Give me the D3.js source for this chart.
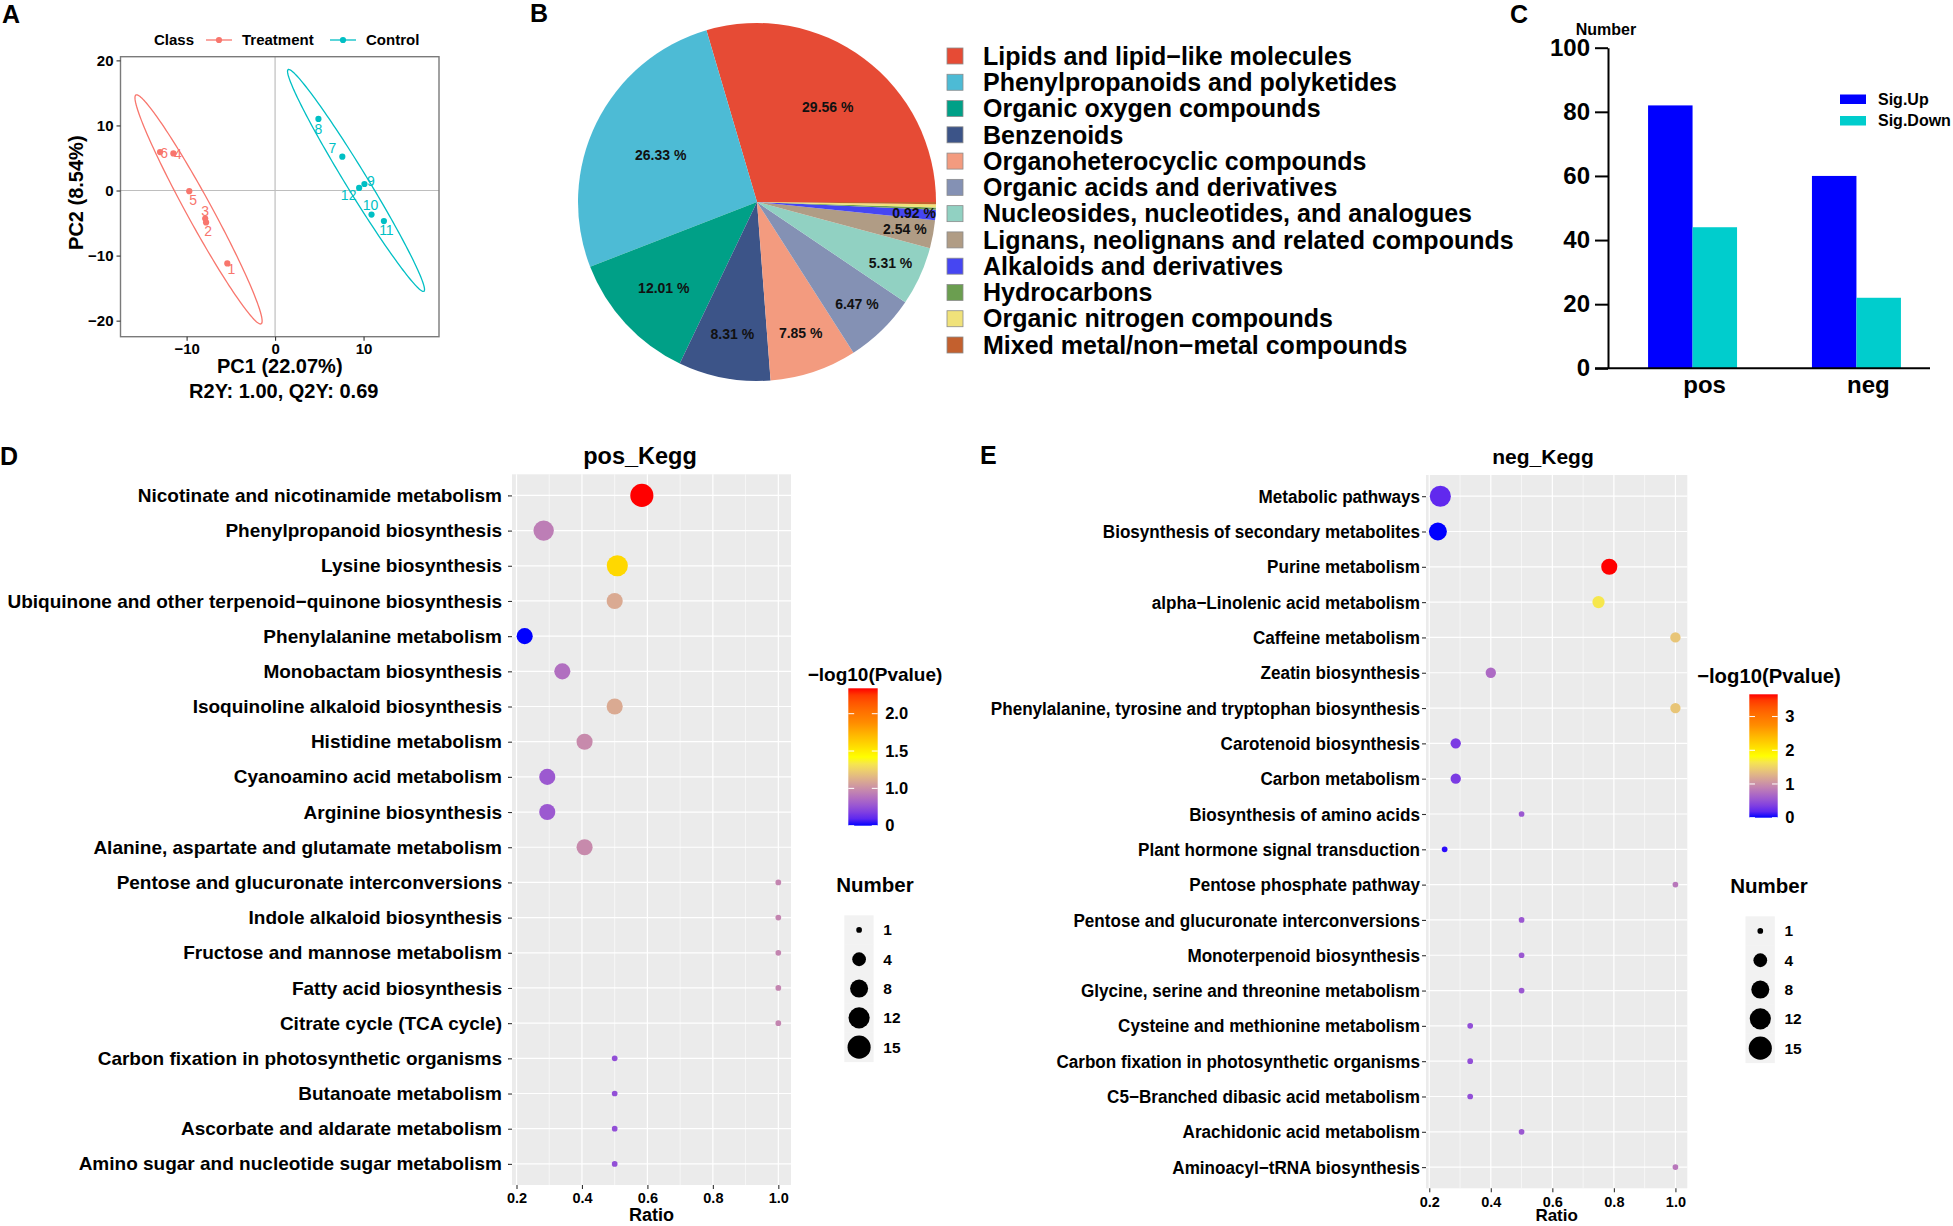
<!DOCTYPE html>
<html><head><meta charset="utf-8">
<script src="https://cdn.jsdelivr.net/npm/d3@7"></script>
<style>
body{margin:0;background:#fff;}
svg{display:block;font-family:"Liberation Sans",Arial,Helvetica,sans-serif;}
</style></head><body>
<svg id="fig" width="1953" height="1226"></svg>
<script>
// ================= DATA =================
// Panel A : PLS-DA scores
const plsSamples = ["1","2","3","4","5","6","7","8","9","10","11","12"];
const plsClass   = ["Treatment","Treatment","Treatment","Treatment","Treatment","Treatment",
                    "Control","Control","Control","Control","Control","Control"];
const plsPC1 = [-5.4,-7.8,-7.9,-11.5,-9.7,-13.0, 7.6,4.9,10.1,10.9,12.3,9.5];
const plsPC2 = [-11.2,-4.9,-4.3,5.7,-0.1,5.9, 5.2,11.0,1.0,-3.7,-4.7,0.4];
const plsClasses = ["Treatment","Control"];
const ellipseEndA  = [[-15.7,14.7],[1.5,18.6]];   // ends of major axis (data units)
const ellipseEndB  = [[-1.6,-20.5],[16.8,-15.5]];
const ellipseMinor = [1.5,1.3];                    // minor semi-axis (data units)
const plsXTicks = [-10,0,10];
const plsYTicks = [-20,-10,0,10,20];

// Panel B : classification pie
const pieClasses = ["Lipids and lipid\u2212like molecules","Phenylpropanoids and polyketides",
  "Organic oxygen compounds","Benzenoids","Organoheterocyclic compounds",
  "Organic acids and derivatives","Nucleosides, nucleotides, and analogues",
  "Lignans, neolignans and related compounds","Alkaloids and derivatives","Hydrocarbons",
  "Organic nitrogen compounds","Mixed metal/non\u2212metal compounds"];
const piePercent = [29.56,26.33,12.01,8.31,7.85,6.47,5.31,2.54,0.92,0.20,0.30,0.20];

// Panel C : significant metabolites
const modeGroups = ["pos","neg"];
const sigSeries  = ["Sig.Up","Sig.Down"];
const sigUp   = [82,60];
const sigDown = [44,22];
const countTicks = [0,20,40,60,80,100];

// Panel D : pos KEGG enrichment
const keggPosPathways = ["Nicotinate and nicotinamide metabolism","Phenylpropanoid biosynthesis",
  "Lysine biosynthesis","Ubiquinone and other terpenoid\u2212quinone biosynthesis",
  "Phenylalanine metabolism","Monobactam biosynthesis","Isoquinoline alkaloid biosynthesis",
  "Histidine metabolism","Cyanoamino acid metabolism","Arginine biosynthesis",
  "Alanine, aspartate and glutamate metabolism","Pentose and glucuronate interconversions",
  "Indole alkaloid biosynthesis","Fructose and mannose metabolism","Fatty acid biosynthesis",
  "Citrate cycle (TCA cycle)","Carbon fixation in photosynthetic organisms",
  "Butanoate metabolism","Ascorbate and aldarate metabolism",
  "Amino sugar and nucleotide sugar metabolism"];
const keggPosRatio  = [0.583,0.283,0.508,0.5,0.225,0.34,0.5,0.408,0.294,0.294,0.408,1,1,1,1,1,0.5,0.5,0.5,0.5];
const keggPosNumber = [15,11,12,6,6,6,6,6,6,6,6,1,1,1,1,1,1,1,1,1];
const keggPosLogP   = [2.34,0.93,1.58,1.1,0.5,0.87,1.1,0.98,0.78,0.78,0.98,0.96,0.96,0.96,0.96,0.96,0.74,0.74,0.74,0.74];
const keggPosColorTicks  = [0.5,1.0,1.5,2.0];
const keggPosColorLabels = ["0","1.0","1.5","2.0"];

// Panel E : neg KEGG enrichment
const keggNegPathways = ["Metabolic pathways","Biosynthesis of secondary metabolites",
  "Purine metabolism","alpha\u2212Linolenic acid metabolism","Caffeine metabolism",
  "Zeatin biosynthesis","Phenylalanine, tyrosine and tryptophan biosynthesis",
  "Carotenoid biosynthesis","Carbon metabolism","Biosynthesis of amino acids",
  "Plant hormone signal transduction","Pentose phosphate pathway",
  "Pentose and glucuronate interconversions","Monoterpenoid biosynthesis",
  "Glycine, serine and threonine metabolism","Cysteine and methionine metabolism",
  "Carbon fixation in photosynthetic organisms","C5\u2212Branched dibasic acid metabolism",
  "Arachidonic acid metabolism","Aminoacyl\u2212tRNA biosynthesis"];
const keggNegRatio  = [0.236,0.228,0.785,0.75,1,0.4,1,0.286,0.286,0.5,0.25,1,0.5,0.5,0.5,0.333,0.333,0.333,0.5,1];
const keggNegNumber = [12,8,6,3,2,2,2,2,2,1,1,1,1,1,1,1,1,1,1,1];
const keggNegLogP   = [0.2,0,3.66,1.65,1.4,0.7,1.4,0.33,0.33,0.55,0.04,0.8,0.55,0.55,0.55,0.48,0.48,0.48,0.55,0.8];
const keggNegColorTicks  = [0,1,2,3];
const keggNegColorLabels = ["0","1","2","3"];

const ratioTicks  = [0.2,0.4,0.6,0.8,1.0];
const numberBreaks = [1,4,8,12,15];

// ================= STYLES =================
const classColors = {Treatment:"#F8766D", Control:"#00BFC4"};
const pieColors = ["#E64B35","#4DBBD5","#00A087","#3C5488","#F39B7F","#8491B4","#91D1C2",
                   "#B09C85","#4646F2","#6B9E50","#F0E27A","#C3602E"];
const pieLabelRadius = [0.66,0.6,0.71,0.75,0.77,0.8,0.82,0.84,0.88];
const sigColors = ["#0000FF","#00CDCD"];
const gradColors = ["#0000FF","#C385B0","#FFFF00","#FF8C00","#FF0000"];

// ================= DRAW =================
const svg = d3.select("#fig");
function label(x,y,s,size){
  svg.append("text").attr("x",x).attr("y",y).attr("font-size",size).attr("font-weight","bold").text(s);
}
label(2,23,"A",25); label(530,22,"B",25); label(1510,23,"C",25); label(0,465,"D",25); label(980,464,"E",25);

// ---------- Panel A ----------
(function(){
  const g = svg.append("g");
  const ells = plsClasses.map((c,i)=>{
    const [x1,y1]=ellipseEndA[i],[x2,y2]=ellipseEndB[i];
    const cx=(x1+x2)/2, cy=(y1+y2)/2, ux=(x2-x1)/2, uy=(y2-y1)/2, a=Math.hypot(ux,uy);
    const vx=-uy/a*ellipseMinor[i], vy=ux/a*ellipseMinor[i];
    return d3.range(0,361,2).map(t=>{const r=t*Math.PI/180;
      return [cx+ux*Math.cos(r)+vx*Math.sin(r), cy+uy*Math.cos(r)+vy*Math.sin(r)];});
  });
  const allX = ells.flat().map(p=>p[0]).concat(plsPC1);
  const allY = ells.flat().map(p=>p[1]).concat(plsPC2);
  const ex=d3.extent(allX), ey=d3.extent(allY);
  const px=(ex[1]-ex[0])*0.05, py=(ey[1]-ey[0])*0.05;
  const L=120.5,R=439,T=56.7,B=336.7;
  const x=d3.scaleLinear().domain([ex[0]-px,ex[1]+px]).range([L,R]);
  const y=d3.scaleLinear().domain([ey[0]-py,ey[1]+py]).range([B,T]);
  g.append("line").attr("x1",x(0)).attr("x2",x(0)).attr("y1",T).attr("y2",B).attr("stroke","#BEBEBE").attr("stroke-width",1.2);
  g.append("line").attr("x1",L).attr("x2",R).attr("y1",y(0)).attr("y2",y(0)).attr("stroke","#BEBEBE").attr("stroke-width",1.2);
  const line=d3.line().x(d=>x(d[0])).y(d=>y(d[1]));
  ells.forEach((e,i)=>g.append("path").attr("d",line(e)).attr("fill","none")
    .attr("stroke",classColors[plsClasses[i]]).attr("stroke-width",1.3));
  const labOff=[[4,6],[2,9],[0,-7],[4.5,1],[4,9],[4,1],[-10,-9],[0,10],[6.5,-3],[-1,-9],[2.5,9],[-10.5,7]];
  plsSamples.forEach((s,i)=>{
    g.append("circle").attr("cx",x(plsPC1[i])).attr("cy",y(plsPC2[i])).attr("r",3.1).attr("fill",classColors[plsClass[i]]);
    g.append("text").attr("x",x(plsPC1[i])+labOff[i][0]).attr("y",y(plsPC2[i])+labOff[i][1]).attr("dy","0.35em")
      .attr("text-anchor","middle").attr("font-size",14).attr("fill",classColors[plsClass[i]]).text(s);
  });
  g.append("rect").attr("x",L).attr("y",T).attr("width",R-L).attr("height",B-T).attr("fill","none").attr("stroke","#7a7a7a").attr("stroke-width",1.4);
  const ax=g.append("g").attr("transform",`translate(0,${B})`).call(d3.axisBottom(x).tickValues(plsXTicks).tickSize(4).tickPadding(3));
  const ay=g.append("g").attr("transform",`translate(${L},0)`).call(d3.axisLeft(y).tickValues(plsYTicks).tickSize(4).tickPadding(3));
  [ax,ay].forEach(a=>{a.select(".domain").remove();a.selectAll("line").attr("stroke","#333").attr("stroke-width",1.1);
    a.selectAll("text").attr("font-size",15).attr("font-weight","bold").attr("fill","#000").attr("font-family",null);});
  const cxm=(L+R)/2;
  g.append("text").attr("x",cxm).attr("y",373).attr("text-anchor","middle").attr("font-size",20).attr("font-weight","bold").text("PC1 (22.07%)");
  g.append("text").attr("x",cxm+4).attr("y",398).attr("text-anchor","middle").attr("font-size",20).attr("font-weight","bold").text("R2Y: 1.00, Q2Y: 0.69");
  g.append("text").attr("transform",`translate(83,${(T+B)/2-4}) rotate(-90)`).attr("text-anchor","middle").attr("font-size",20).attr("font-weight","bold").text("PC2 (8.54%)");
  // legend
  g.append("text").attr("x",154).attr("y",40).attr("dy","0.35em").attr("font-size",15).attr("font-weight","bold").text("Class");
  const keyX=[206,330];
  plsClasses.forEach((c,i)=>{
    g.append("line").attr("x1",keyX[i]).attr("x2",keyX[i]+26).attr("y1",40).attr("y2",40).attr("stroke",classColors[c]).attr("stroke-width",1.3);
    g.append("circle").attr("cx",keyX[i]+13).attr("cy",40).attr("r",3.1).attr("fill",classColors[c]);
    g.append("text").attr("x",keyX[i]+36).attr("y",40).attr("dy","0.35em").attr("font-size",15).attr("font-weight","bold").text(c);
  });
})();

// ---------- Panel B ----------
(function(){
  const cx=757, cy=202, r=179;
  const g=svg.append("g").attr("transform",`translate(${cx},${cy})`);
  const data=pieClasses.map((c,i)=>({c,v:piePercent[i],i}));
  const pie=d3.pie().value(d=>d.v).sort(null).startAngle(Math.PI/2).endAngle(Math.PI/2-2*Math.PI);
  const arcs=pie(data);
  const arc=d3.arc().innerRadius(0).outerRadius(r);
  g.selectAll("path").data(arcs).join("path").attr("d",arc).attr("fill",d=>pieColors[d.data.i]);
  arcs.filter(d=>d.data.v>=0.5).forEach((d,k)=>{
    const m=(d.startAngle+d.endAngle)/2, rr=r*pieLabelRadius[k];
    g.append("text").attr("x",Math.sin(m)*rr).attr("y",-Math.cos(m)*rr).attr("dy","0.35em")
      .attr("text-anchor","middle").attr("font-size",14).attr("font-weight","bold").attr("fill","#111")
      .text(d.data.v.toFixed(2)+" %");
  });
  const lg=svg.append("g");
  const ly=d3.scalePoint().domain(pieClasses).range([56,345]);
  pieClasses.forEach((c,i)=>{
    lg.append("rect").attr("x",947).attr("y",ly(c)-8).attr("width",16).attr("height",16)
      .attr("fill",pieColors[i]).attr("stroke","#8c8c8c").attr("stroke-width",0.8);
    lg.append("text").attr("x",983).attr("y",ly(c)).attr("dy","0.35em").attr("font-size",25).attr("font-weight","bold").text(c);
  });
})();

// ---------- Panel C ----------
(function(){
  const g=svg.append("g");
  const y=d3.scaleLinear().domain([0,100]).range([368.3,47.7]);
  const x0=d3.scaleBand().domain(modeGroups).range([1598.9,1950.1]).paddingInner(0.457).paddingOuter(0.3);
  const x1=d3.scaleBand().domain(sigSeries).range([0,x0.bandwidth()]);
  const vals=[sigUp,sigDown];
  modeGroups.forEach((m,gi)=>sigSeries.forEach((s,si)=>{
    g.append("rect").attr("x",x0(m)+x1(s)).attr("width",x1.bandwidth())
      .attr("y",y(vals[si][gi])).attr("height",y(0)-y(vals[si][gi])).attr("fill",sigColors[si]);
  }));
  const ay=g.append("g").attr("transform","translate(1608,0)")
    .call(d3.axisLeft(y).tickValues(countTicks).tickSize(13).tickSizeOuter(0).tickPadding(5));
  ay.select(".domain").attr("stroke","#000").attr("stroke-width",2);
  ay.selectAll("line").attr("stroke","#000").attr("stroke-width",2);
  ay.selectAll("text").attr("font-size",24).attr("font-weight","bold").attr("fill","#000").attr("font-family",null);
  g.append("line").attr("x1",1595).attr("x2",1930).attr("y1",y(0)).attr("y2",y(0)).attr("stroke","#000").attr("stroke-width",2);
  modeGroups.forEach(m=>g.append("text").attr("x",x0(m)+x0.bandwidth()/2+12).attr("y",393)
    .attr("text-anchor","middle").attr("font-size",24).attr("font-weight","bold").text(m));
  g.append("text").attr("x",1606).attr("y",35).attr("text-anchor","middle").attr("font-size",16).attr("font-weight","bold").text("Number");
  sigSeries.forEach((s,i)=>{
    const yy=99+i*21.5;
    g.append("rect").attr("x",1840).attr("y",yy-4.5).attr("width",26).attr("height",9.5).attr("fill",sigColors[i]);
    g.append("text").attr("x",1878).attr("y",yy).attr("dy","0.35em").attr("font-size",16).attr("font-weight","bold").text(s);
  });
})();

// ---------- Panels D & E ----------
function squeeze(sel,sx){
  sel.each(function(){const t=d3.select(this);const x0=+t.attr("x")||0;
    t.attr("x",x0/sx).attr("transform",`scale(${sx},1)`);});
}
function kegg(o){
  const g=svg.append("g");
  const rows=d3.scalePoint().domain(o.paths).range([o.T,o.B]).padding(0.6);
  const ex=d3.extent(o.ratio), pad=(ex[1]-ex[0])*0.05;
  const x=d3.scaleLinear().domain([ex[0]-pad,ex[1]+pad]).range([o.L,o.R]);
  const cdom=d3.extent(o.logp);
  const color=d3.scaleLinear().domain(d3.range(5).map(k=>cdom[0]+k/4*(cdom[1]-cdom[0])))
    .range(gradColors).interpolate(d3.interpolateLab);
  const rad=n=>(5.7+17.4*Math.sqrt((n-1)/14))/2;
  g.append("rect").attr("x",o.L).attr("y",o.T).attr("width",o.R-o.L).attr("height",o.B-o.T).attr("fill","#EBEBEB");
  const minor=ratioTicks.slice(0,-1).map((t,i)=>(t+ratioTicks[i+1])/2);
  minor.forEach(t=>g.append("line").attr("x1",x(t)).attr("x2",x(t)).attr("y1",o.T).attr("y2",o.B).attr("stroke","#fff").attr("stroke-width",0.6));
  ratioTicks.forEach(t=>g.append("line").attr("x1",x(t)).attr("x2",x(t)).attr("y1",o.T).attr("y2",o.B).attr("stroke","#fff").attr("stroke-width",1.2));
  o.paths.forEach(p=>g.append("line").attr("x1",o.L).attr("x2",o.R).attr("y1",rows(p)).attr("y2",rows(p)).attr("stroke","#fff").attr("stroke-width",1.2));
  o.paths.forEach((p,i)=>g.append("circle").attr("cx",x(o.ratio[i])).attr("cy",rows(p)).attr("r",rad(o.num[i])).attr("fill",color(o.logp[i])));
  const ax=g.append("g").attr("transform",`translate(0,${o.B})`)
    .call(d3.axisBottom(x).tickValues(ratioTicks).tickFormat(d3.format(".1f")).tickSize(4).tickPadding(4));
  const ay=g.append("g").attr("transform",`translate(${o.L},0)`).call(d3.axisLeft(rows).tickSize(4).tickPadding(o.lp));
  [ax,ay].forEach(a=>{a.select(".domain").remove();a.selectAll("line").attr("stroke","#333").attr("stroke-width",1.1);
    a.selectAll("text").attr("font-weight","bold").attr("fill","#000").attr("font-family",null);});
  ax.selectAll("text").attr("font-size",14.5);
  ay.selectAll("text").attr("font-size",19);
  if(o.sx!==1) squeeze(ay.selectAll("text"),o.sx);
  g.append("text").attr("x",(o.L+o.R)/2).attr("y",1221).attr("text-anchor","middle").attr("font-size",o.ratioSize).attr("font-weight","bold").text("Ratio");
  g.append("text").attr("x",o.titleX).attr("y",464).attr("text-anchor","middle").attr("font-size",o.titleSize).attr("font-weight","bold").text(o.title);
  // colour bar
  const cb=o.cb;
  g.append("text").attr("x",cb.cx).attr("y",cb.titleY).attr("text-anchor","middle").attr("font-size",cb.tsize).attr("font-weight","bold").text("\u2212log10(Pvalue)");
  const gid="grad"+o.title;
  const lgd=svg.append("defs").append("linearGradient").attr("id",gid).attr("x1",0).attr("x2",0).attr("y1",1).attr("y2",0);
  d3.range(0,1.0001,0.05).forEach(t=>lgd.append("stop").attr("offset",t).attr("stop-color",color(cdom[0]+t*(cdom[1]-cdom[0]))));
  g.append("rect").attr("x",cb.x).attr("y",cb.top).attr("width",cb.w).attr("height",cb.bot-cb.top).attr("fill",`url(#${gid})`);
  const cy=d3.scaleLinear().domain(cdom).range([cb.bot,cb.top]);
  o.cticks.forEach((t,i)=>{
    g.append("line").attr("x1",cb.x).attr("x2",cb.x+cb.w/5).attr("y1",cy(t)).attr("y2",cy(t)).attr("stroke","#fff").attr("stroke-width",1);
    g.append("line").attr("x1",cb.x+cb.w*4/5).attr("x2",cb.x+cb.w).attr("y1",cy(t)).attr("y2",cy(t)).attr("stroke","#fff").attr("stroke-width",1);
    g.append("text").attr("x",cb.x+cb.w+7.5).attr("y",cy(t)).attr("dy","0.35em").attr("font-size",16.5).attr("font-weight","bold").text(o.clabels[i]);
  });
  // size legend
  const sz=o.sz;
  g.append("text").attr("x",cb.cx).attr("y",sz.titleY).attr("text-anchor","middle").attr("font-size",20.5).attr("font-weight","bold").text("Number");
  const ks=29.3;
  numberBreaks.forEach((n,i)=>{
    const yc=sz.top+ks*(i+0.5);
    g.append("rect").attr("x",sz.x).attr("y",sz.top+ks*i).attr("width",29.3).attr("height",ks+0.3).attr("fill","#F2F2F2");
    g.append("circle").attr("cx",sz.x+14.8).attr("cy",yc).attr("r",rad(n)).attr("fill","#000");
    g.append("text").attr("x",sz.x+39).attr("y",yc).attr("dy","0.35em").attr("font-size",15.5).attr("font-weight","bold").text(n);
  });
}
kegg({paths:keggPosPathways,ratio:keggPosRatio,num:keggPosNumber,logp:keggPosLogP,
  cticks:keggPosColorTicks,clabels:keggPosColorLabels,title:"pos_Kegg",titleX:640,titleSize:23.5,ratioSize:18,
  L:512,R:791,T:474.3,B:1185,lp:6,sx:1,
  cb:{cx:875,titleY:681,x:848.3,w:29.4,top:688.3,bot:825.7,tsize:19},
  sz:{titleY:892,x:844.3,top:915.3}});
kegg({paths:keggNegPathways,ratio:keggNegRatio,num:keggNegNumber,logp:keggNegLogP,
  cticks:keggNegColorTicks,clabels:keggNegColorLabels,title:"neg_Kegg",titleX:1543,titleSize:21,ratioSize:17,
  L:1426,R:1687.3,T:475,B:1188.3,lp:2,sx:0.9,
  cb:{cx:1769,titleY:683,x:1749.3,w:28.4,top:694.3,bot:817.7,tsize:20.3},
  sz:{titleY:893,x:1745.5,top:916.3}});
</script>
</body></html>
